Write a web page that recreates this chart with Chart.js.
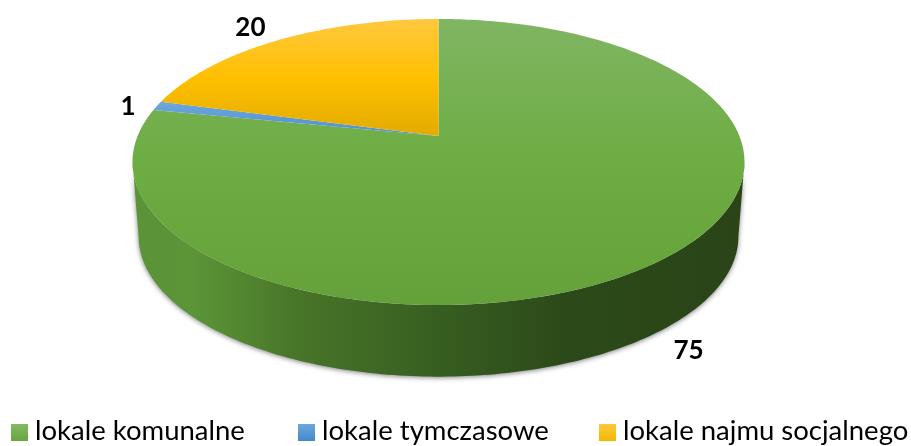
<!DOCTYPE html>
<html>
<head>
<meta charset="utf-8">
<style>
   html, body { margin: 0; padding: 0; background: #fff; overflow: hidden; }
   #wrap { position: relative; width: 911px; height: 446px; }
   #legend { position: absolute; left: 11px; top: 412px; font: 27.5px Lato, sans-serif; color: #000; white-space: nowrap; }
   #legend span.item { position: absolute; top: 0; line-height: 36px; }
   #legend i { display: inline-block; width: 17px; height: 17px; margin-right: 7px; vertical-align: -1px; }
</style>
</head>
<body>
<div id="wrap">
   <canvas id="canvas" width="911" height="446"></canvas>
   <div id="legend"></div>
</div>
<script src="https://cdn.jsdelivr.net/npm/chart.js@4"></script>
<script>
const categories = ["lokale komunalne", "lokale tymczasowe", "lokale najmu socjalnego"];
const values = [75, 1, 20];

const faceStops = [
   ["#80b562", "#6dad43", "#65a13a"],
   ["#6da7dc", "#5b9bd5", "#4f90cc"],
   ["#ffc83f", "#ffc000", "#e2ab00"],
];
const legendStops = [
   ["#82b966", "#68a73d"],
   ["#6da7dc", "#418ad0"],
   ["#ffc83f", "#f5b800"],
];
const wallStops = [
   [0, "#5a9338"],
   [0.1, "#5b9538"],
   [0.27, "#487528"],
   [0.5, "#375e21"],
   [0.7, "#2c4a19"],
   [1, "#2a4417"],
];
const labelOffsets = [
   [28, 90],
   [-29, 1],
   [-28, -13],
];

// perspective of the disc: front of the pie is nearer than the back
const CX = 438.5;
const TOP_Y = 136;
const BOTTOM_Y = 211;
const RX = 300.9;
const RY = 138.3;
const P = 0.1818;
const WALL_SCALE = 0.98;

function project(phi, y0, scale) {
   const u = Math.sin(phi);
   const v = -Math.cos(phi);
   const d = 1 - P * v;
   return { x: CX + (scale * RX * u) / d, y: y0 + (scale * RY * v) / d };
}

function sliceAngles(el) {
   return [el.startAngle + Math.PI / 2, el.endAngle + Math.PI / 2];
}

function traceRim(ctx, from, to, y0, scale) {
   const steps = Math.max(2, Math.ceil(Math.abs(to - from) * 60));
   for (let i = 0; i <= steps; i++) {
      const p = project(from + ((to - from) * i) / steps, y0, scale);
      ctx.lineTo(p.x, p.y);
   }
}

const pie3d = {
   id: "pie3d",
   beforeDatasetDraw(chart) {
      const ctx = chart.ctx;
      const arcs = chart.getDatasetMeta(0).data;
      // the rim is widest where cos(phi) = -P, the wall is seen only between those two points
      const frontFrom = Math.PI / 2 + Math.asin(P);
      const frontTo = (3 * Math.PI) / 2 - Math.asin(P);

      const wall = ctx.createLinearGradient(CX - 306, 0, CX + 306, 0);
      wallStops.forEach((s) => wall.addColorStop(s[0], s[1]));
      ctx.save();
      ctx.shadowColor = "rgba(0, 0, 0, 0.5)";
      ctx.shadowBlur = 5;
      ctx.shadowOffsetY = 1;
      arcs.forEach((el) => {
         const [a, b] = sliceAngles(el);
         const from = Math.max(a, frontFrom);
         const to = Math.min(b, frontTo);
         if (to <= from) return;
         ctx.beginPath();
         traceRim(ctx, from, to, TOP_Y, 1);
         traceRim(ctx, to, from, BOTTOM_Y, WALL_SCALE);
         ctx.closePath();
         ctx.fillStyle = wall;
         ctx.fill();
      });
      ctx.restore();

      // top face
      arcs.forEach((el, i) => {
         const [a, b] = sliceAngles(el);
         let top = TOP_Y;
         let bottom = TOP_Y;
         ctx.beginPath();
         ctx.moveTo(CX, TOP_Y);
         traceRim(ctx, a, b, TOP_Y, 1);
         ctx.closePath();
         for (let t = a; t <= b; t += 0.02) {
            const y = project(t, TOP_Y, 1).y;
            top = Math.min(top, y);
            bottom = Math.max(bottom, y);
         }
         const g = ctx.createLinearGradient(0, top, 0, bottom);
         g.addColorStop(0, faceStops[i][0]);
         g.addColorStop(0.5, faceStops[i][1]);
         g.addColorStop(1, faceStops[i][2]);
         ctx.fillStyle = g;
         ctx.fill();
      });
      return false;
   },
   afterDatasetsDraw(chart) {
      const ctx = chart.ctx;
      ctx.save();
      ctx.font = "bold 26px Lato, sans-serif";
      ctx.fillStyle = "#000";
      ctx.textAlign = "center";
      ctx.textBaseline = "middle";
      chart.getDatasetMeta(0).data.forEach((el, i) => {
         const [a, b] = sliceAngles(el);
         const p = project((a + b) / 2, TOP_Y, 1);
         ctx.fillText(values[i], p.x + labelOffsets[i][0], p.y + labelOffsets[i][1]);
      });
      ctx.restore();
   },
};

new Chart(document.getElementById("canvas"), {
   type: "pie",
   data: {
      labels: categories,
      datasets: [
         {
            data: values,
            backgroundColor: faceStops.map((s) => s[1]),
            borderWidth: 0,
         },
      ],
   },
   options: {
      responsive: false,
      animation: false,
      plugins: {
         legend: { display: false },
         tooltip: { enabled: false },
      },
   },
   plugins: [pie3d],
});

const legendLeft = [0, 287, 588];
const legend = document.getElementById("legend");
categories.forEach((name, i) => {
   const item = document.createElement("span");
   item.className = "item";
   item.style.left = legendLeft[i] + "px";
   const box = document.createElement("i");
   box.style.background = `linear-gradient(${legendStops[i][0]}, ${legendStops[i][1]})`;
   item.appendChild(box);
   item.appendChild(document.createTextNode(name));
   legend.appendChild(item);
});
</script>
</body>
</html>
